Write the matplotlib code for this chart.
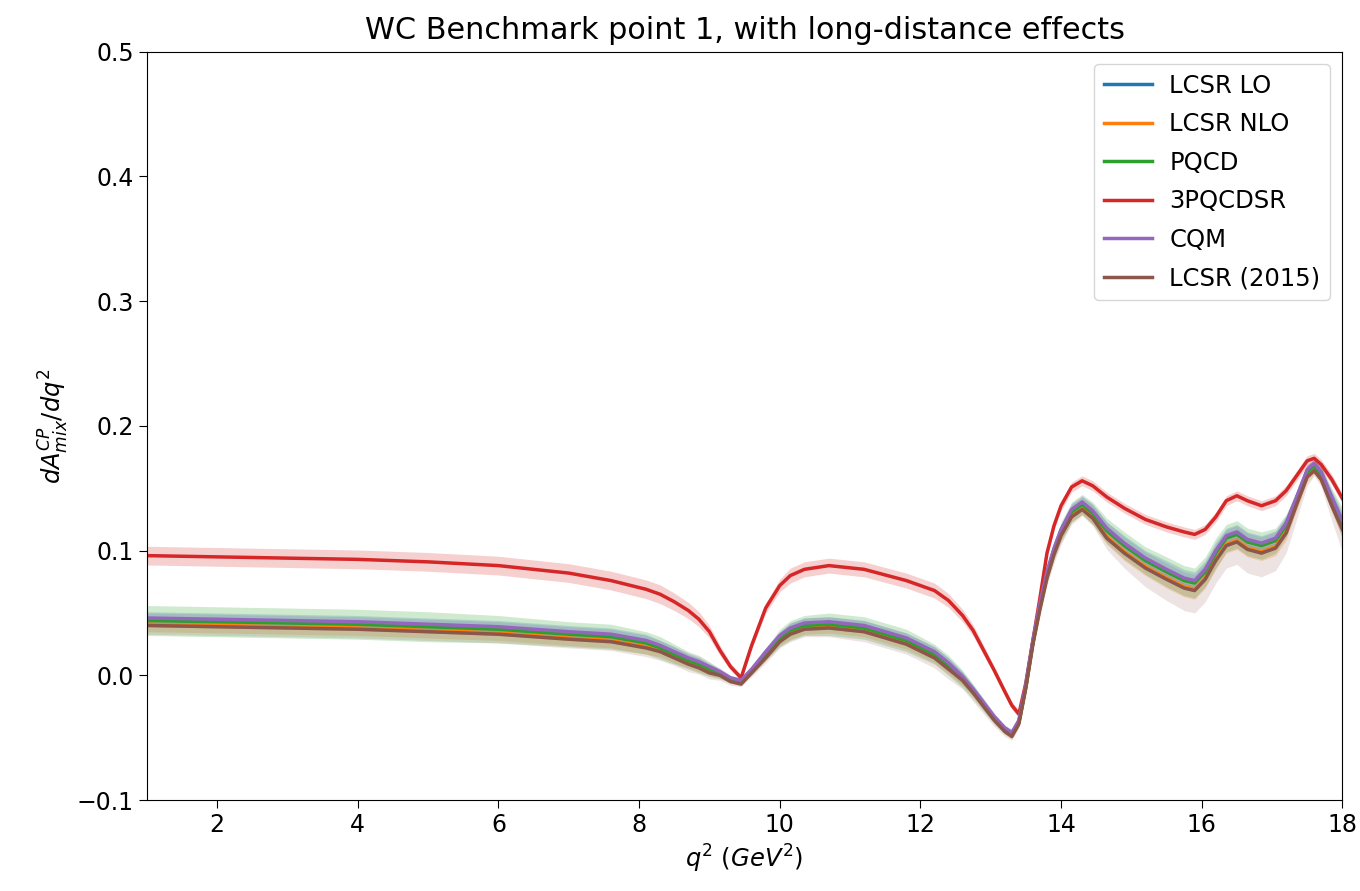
import matplotlib
matplotlib.use("Agg")
import matplotlib.pyplot as plt

# q^2 knots (GeV^2)
q2 = [1.0, 2.0, 3.0, 4.0, 5.0, 6.0, 7.0, 7.6, 8.1, 8.3,
      8.5, 8.7, 8.85, 9.0, 9.15, 9.3, 9.45, 9.6, 9.8, 10.0,
      10.15, 10.35, 10.7, 11.2, 11.8, 12.2, 12.4, 12.6, 12.75, 12.9,
      13.05, 13.2, 13.3, 13.4, 13.5, 13.6, 13.7, 13.8, 13.9, 14.0,
      14.15, 14.3, 14.45, 14.65, 14.9, 15.2, 15.5, 15.75, 15.9, 16.05,
      16.2, 16.35, 16.5, 16.65, 16.85, 17.05, 17.2, 17.35, 17.5, 17.6,
      17.7, 17.85, 18.0]

lcsr_lo = [0.045, 0.044, 0.043, 0.042, 0.040, 0.038, 0.034, 0.032, 0.027, 0.023,
           0.018, 0.013, 0.010, 0.006, 0.002, -0.003, -0.004, 0.004, 0.018, 0.031,
           0.037, 0.041, 0.042, 0.039, 0.029, 0.018, 0.009, -0.002, -0.012, -0.023,
           -0.034, -0.043, -0.046, -0.037, -0.008, 0.027, 0.057, 0.082, 0.101, 0.116,
           0.132, 0.138, 0.131, 0.117, 0.105, 0.093, 0.084, 0.077, 0.075, 0.084,
           0.099, 0.111, 0.114, 0.108, 0.105, 0.109, 0.121, 0.142, 0.164, 0.169,
           0.162, 0.142, 0.123]
lcsr_nlo = [0.041, 0.040, 0.039, 0.038, 0.036, 0.034, 0.030, 0.028, 0.023, 0.020,
            0.015, 0.010, 0.007, 0.003, 0.001, -0.004, -0.006, 0.003, 0.015, 0.028,
            0.034, 0.038, 0.039, 0.036, 0.026, 0.015, 0.006, -0.003, -0.013, -0.024,
            -0.035, -0.044, -0.048, -0.038, -0.009, 0.026, 0.054, 0.079, 0.098, 0.113,
            0.128, 0.134, 0.127, 0.111, 0.099, 0.087, 0.078, 0.071, 0.069, 0.078,
            0.093, 0.105, 0.108, 0.102, 0.099, 0.103, 0.115, 0.138, 0.160, 0.165,
            0.158, 0.137, 0.118]
pqcd = [0.044, 0.043, 0.042, 0.041, 0.039, 0.037, 0.033, 0.031, 0.026, 0.022,
        0.017, 0.012, 0.009, 0.005, 0.001, -0.003, -0.005, 0.003, 0.017, 0.030,
        0.036, 0.040, 0.041, 0.038, 0.028, 0.017, 0.008, -0.003, -0.013, -0.024,
        -0.035, -0.044, -0.047, -0.038, -0.009, 0.026, 0.056, 0.081, 0.100, 0.115,
        0.131, 0.137, 0.130, 0.116, 0.104, 0.092, 0.083, 0.076, 0.074, 0.083,
        0.098, 0.110, 0.113, 0.107, 0.104, 0.108, 0.120, 0.141, 0.163, 0.168,
        0.161, 0.141, 0.122]
pqcdsr3 = [0.096, 0.095, 0.094, 0.093, 0.091, 0.088, 0.082, 0.076, 0.069, 0.065,
           0.059, 0.052, 0.045, 0.035, 0.020, 0.007, -0.002, 0.024, 0.054, 0.072,
           0.080, 0.085, 0.088, 0.085, 0.076, 0.068, 0.060, 0.048, 0.036, 0.020,
           0.004, -0.013, -0.024, -0.031, -0.006, 0.028, 0.062, 0.098, 0.120, 0.136,
           0.151, 0.156, 0.152, 0.143, 0.134, 0.125, 0.119, 0.115, 0.113, 0.117,
           0.127, 0.140, 0.144, 0.140, 0.136, 0.140, 0.148, 0.160, 0.172, 0.174,
           0.169, 0.157, 0.142]
cqm = [0.046, 0.045, 0.044, 0.043, 0.041, 0.039, 0.035, 0.033, 0.028, 0.024,
       0.019, 0.014, 0.011, 0.007, 0.003, -0.002, -0.004, 0.005, 0.019, 0.032,
       0.038, 0.042, 0.043, 0.040, 0.030, 0.019, 0.010, -0.001, -0.011, -0.022,
       -0.033, -0.042, -0.046, -0.036, -0.007, 0.028, 0.058, 0.083, 0.102, 0.117,
       0.133, 0.139, 0.132, 0.118, 0.106, 0.094, 0.085, 0.078, 0.076, 0.085,
       0.100, 0.112, 0.115, 0.109, 0.106, 0.110, 0.122, 0.143, 0.165, 0.170,
       0.163, 0.143, 0.124]
lcsr_2015 = [0.040, 0.039, 0.038, 0.037, 0.035, 0.033, 0.029, 0.027, 0.022, 0.019,
             0.014, 0.009, 0.006, 0.002, 0.000, -0.005, -0.007, 0.002, 0.014, 0.027,
             0.033, 0.037, 0.038, 0.035, 0.025, 0.014, 0.005, -0.004, -0.014, -0.025,
             -0.036, -0.045, -0.049, -0.039, -0.010, 0.025, 0.053, 0.078, 0.097, 0.112,
             0.127, 0.133, 0.126, 0.110, 0.098, 0.086, 0.077, 0.070, 0.068, 0.077,
             0.092, 0.104, 0.107, 0.101, 0.098, 0.102, 0.114, 0.137, 0.159, 0.164,
             0.157, 0.136, 0.117]

# band half-widths
err_lcsr = [0.006, 0.006, 0.006, 0.006, 0.006, 0.006, 0.006, 0.006, 0.006, 0.005,
            0.005, 0.004, 0.004, 0.003, 0.003, 0.002, 0.002, 0.002, 0.003, 0.004,
            0.005, 0.005, 0.005, 0.005, 0.005, 0.005, 0.005, 0.005, 0.004, 0.004,
            0.003, 0.003, 0.003, 0.003, 0.003, 0.003, 0.004, 0.004, 0.005, 0.005,
            0.005, 0.005, 0.006, 0.006, 0.007, 0.007, 0.008, 0.008, 0.008, 0.008,
            0.008, 0.007, 0.007, 0.007, 0.007, 0.007, 0.007, 0.006, 0.005, 0.004,
            0.005, 0.006, 0.008]
err_pqcd = [0.012, 0.012, 0.012, 0.012, 0.012, 0.011, 0.010, 0.010, 0.009, 0.009,
            0.008, 0.007, 0.007, 0.006, 0.004, 0.003, 0.002, 0.003, 0.005, 0.007,
            0.008, 0.008, 0.009, 0.009, 0.009, 0.008, 0.008, 0.007, 0.006, 0.005,
            0.004, 0.003, 0.003, 0.003, 0.003, 0.004, 0.005, 0.006, 0.007, 0.008,
            0.008, 0.008, 0.009, 0.010, 0.011, 0.011, 0.012, 0.012, 0.012, 0.012,
            0.012, 0.011, 0.011, 0.011, 0.011, 0.010, 0.009, 0.007, 0.005, 0.005,
            0.006, 0.009, 0.012]
err_3pqcdsr = [0.0075, 0.0075, 0.0075, 0.0075, 0.0075, 0.0075, 0.0075, 0.0075, 0.0075, 0.0075,
               0.007, 0.0065, 0.006, 0.005, 0.004, 0.003, 0.002, 0.003, 0.004, 0.005,
               0.006, 0.006, 0.006, 0.006, 0.006, 0.006, 0.0055, 0.005, 0.0045, 0.004,
               0.003, 0.003, 0.003, 0.003, 0.003, 0.003, 0.003, 0.003, 0.003, 0.004,
               0.004, 0.004, 0.004, 0.004, 0.004, 0.004, 0.004, 0.004, 0.004, 0.004,
               0.004, 0.004, 0.004, 0.004, 0.004, 0.004, 0.004, 0.004, 0.004, 0.004,
               0.004, 0.004, 0.004]
err_cqm = [0.004, 0.004, 0.004, 0.004, 0.004, 0.004, 0.004, 0.004, 0.004, 0.004,
           0.004, 0.004, 0.004, 0.003, 0.003, 0.002, 0.002, 0.002, 0.003, 0.003,
           0.004, 0.004, 0.004, 0.004, 0.004, 0.004, 0.004, 0.003, 0.003, 0.003,
           0.003, 0.002, 0.002, 0.002, 0.002, 0.002, 0.003, 0.003, 0.004, 0.004,
           0.005, 0.005, 0.005, 0.005, 0.005, 0.005, 0.005, 0.005, 0.005, 0.005,
           0.005, 0.005, 0.005, 0.005, 0.005, 0.005, 0.005, 0.004, 0.004, 0.003,
           0.004, 0.004, 0.005]
err_2015_lo = [0.007, 0.007, 0.007, 0.007, 0.007, 0.007, 0.007, 0.007, 0.007, 0.007,
               0.006, 0.006, 0.005, 0.005, 0.004, 0.003, 0.002, 0.003, 0.004, 0.005,
               0.006, 0.006, 0.007, 0.008, 0.008, 0.008, 0.008, 0.007, 0.007, 0.006,
               0.005, 0.004, 0.003, 0.003, 0.003, 0.004, 0.005, 0.006, 0.007, 0.007,
               0.006, 0.005, 0.006, 0.009, 0.012, 0.015, 0.017, 0.018, 0.018, 0.018,
               0.018, 0.018, 0.018, 0.019, 0.019, 0.018, 0.016, 0.012, 0.007, 0.004,
               0.006, 0.012, 0.018]
err_2015_hi = [0.004, 0.004, 0.004, 0.004, 0.004, 0.004, 0.004, 0.004, 0.004, 0.004,
               0.004, 0.004, 0.004, 0.003, 0.003, 0.002, 0.002, 0.002, 0.003, 0.003,
               0.004, 0.004, 0.004, 0.004, 0.004, 0.004, 0.004, 0.003, 0.003, 0.003,
               0.003, 0.002, 0.002, 0.002, 0.002, 0.002, 0.003, 0.003, 0.004, 0.004,
               0.004, 0.004, 0.004, 0.004, 0.004, 0.004, 0.004, 0.004, 0.004, 0.004,
               0.004, 0.004, 0.004, 0.004, 0.004, 0.004, 0.004, 0.003, 0.003, 0.003,
               0.003, 0.004, 0.004]

models = [
    ("LCSR LO", lcsr_lo, err_lcsr, err_lcsr, "C0", 0.22),
    ("LCSR NLO", lcsr_nlo, err_lcsr, err_lcsr, "C1", 0.22),
    ("PQCD", pqcd, err_pqcd, err_pqcd, "C2", 0.22),
    ("3PQCDSR", pqcdsr3, err_3pqcdsr, err_3pqcdsr, "C3", 0.22),
    ("CQM", cqm, err_cqm, err_cqm, "C4", 0.22),
    ("LCSR (2015)", lcsr_2015, err_2015_lo, err_2015_hi, "C5", 0.16),
]

plt.rcParams.update({"font.family": "DejaVu Sans"})
fig = plt.figure(figsize=(13.6, 8.91), dpi=100)
ax = fig.add_axes([0.108, 0.102, 0.879, 0.840])

for name, c, elo, ehi, col, a in models:
    lo = [v - e for v, e in zip(c, elo)]
    hi = [v + e for v, e in zip(c, ehi)]
    ax.fill_between(q2, lo, hi, color=col, alpha=a, lw=0)
    ax.plot(q2, c, color=col, lw=2.5, label=name)

ax.set_xlim(1, 18)
ax.set_ylim(-0.1, 0.5)
ax.set_xticks(range(2, 19, 2))
ax.set_xlabel(r"$q^2\ (GeV^2)$", fontsize=17.5)
ax.set_ylabel(r"$dA^{CP}_{mix}/dq^2$", fontsize=17.5)
ax.set_title("WC Benchmark point 1, with long-distance effects", fontsize=21.8, pad=9)
ax.tick_params(labelsize=17, length=6)
ax.legend(loc="upper right", fontsize=17.5, handlelength=2.0, borderpad=0.4,
          labelspacing=0.6, handletextpad=0.7)

fig.savefig("out.png", dpi=100, facecolor="white")
